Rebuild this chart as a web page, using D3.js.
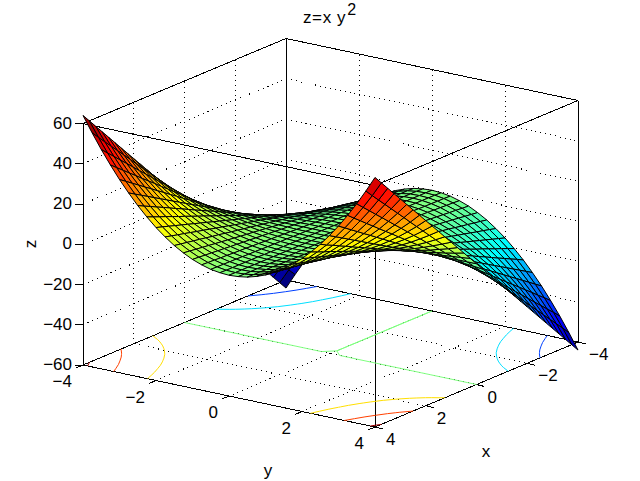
<!DOCTYPE html>
<html>
<head>
<meta charset="utf-8">
<script src="https://cdnjs.cloudflare.com/ajax/libs/d3/7.8.5/d3.min.js"></script>
<style>
  html, body { margin: 0; padding: 0; background: #fff; }
  text { font-family: "Liberation Sans", Arial, sans-serif; fill: #000; }
</style>
</head>
<body>
<svg id="chart" width="640" height="481"></svg>
<script>
const xValues = [-4,-3.75,-3.5,-3.25,-3,-2.75,-2.5,-2.25,-2,-1.75,-1.5,-1.25,-1,-.75,-.5,-.25,0,.25,.5,.75,1,1.25,1.5,1.75,2,2.25,2.5,2.75,3,3.25,3.5,3.75,4];
const yValues = [-4,-3.75,-3.5,-3.25,-3,-2.75,-2.5,-2.25,-2,-1.75,-1.5,-1.25,-1,-.75,-.5,-.25,0,.25,.5,.75,1,1.25,1.5,1.75,2,2.25,2.5,2.75,3,3.25,3.5,3.75,4];

// one row per x value, one column per y value
const zValues = [
[-64,-56.3,-49,-42.3,-36,-30.3,-25,-20.3,-16,-12.3,-9,-6.3,-4,-2.3,-1,-.3,0,-.3,-1,-2.3,-4,-6.3,-9,-12.3,-16,-20.3,-25,-30.3,-36,-42.3,-49,-56.3,-64],
[-60,-52.7,-45.9,-39.6,-33.8,-28.4,-23.4,-19,-15,-11.5,-8.4,-5.9,-3.8,-2.1,-.9,-.2,0,-.2,-.9,-2.1,-3.8,-5.9,-8.4,-11.5,-15,-19,-23.4,-28.4,-33.8,-39.6,-45.9,-52.7,-60],
[-56,-49.2,-42.9,-37,-31.5,-26.5,-21.9,-17.7,-14,-10.7,-7.9,-5.5,-3.5,-2,-.9,-.2,0,-.2,-.9,-2,-3.5,-5.5,-7.9,-10.7,-14,-17.7,-21.9,-26.5,-31.5,-37,-42.9,-49.2,-56],
[-52,-45.7,-39.8,-34.3,-29.3,-24.6,-20.3,-16.5,-13,-10,-7.3,-5.1,-3.3,-1.8,-.8,-.2,0,-.2,-.8,-1.8,-3.3,-5.1,-7.3,-10,-13,-16.5,-20.3,-24.6,-29.3,-34.3,-39.8,-45.7,-52],
[-48,-42.2,-36.8,-31.7,-27,-22.7,-18.8,-15.2,-12,-9.2,-6.8,-4.7,-3,-1.7,-.8,-.2,0,-.2,-.8,-1.7,-3,-4.7,-6.8,-9.2,-12,-15.2,-18.8,-22.7,-27,-31.7,-36.8,-42.2,-48],
[-44,-38.7,-33.7,-29,-24.8,-20.8,-17.2,-13.9,-11,-8.4,-6.2,-4.3,-2.8,-1.5,-.7,-.2,0,-.2,-.7,-1.5,-2.8,-4.3,-6.2,-8.4,-11,-13.9,-17.2,-20.8,-24.8,-29,-33.7,-38.7,-44],
[-40,-35.2,-30.6,-26.4,-22.5,-18.9,-15.6,-12.7,-10,-7.7,-5.6,-3.9,-2.5,-1.4,-.6,-.2,0,-.2,-.6,-1.4,-2.5,-3.9,-5.6,-7.7,-10,-12.7,-15.6,-18.9,-22.5,-26.4,-30.6,-35.2,-40],
[-36,-31.6,-27.6,-23.8,-20.3,-17,-14.1,-11.4,-9,-6.9,-5.1,-3.5,-2.3,-1.3,-.6,-.1,0,-.1,-.6,-1.3,-2.3,-3.5,-5.1,-6.9,-9,-11.4,-14.1,-17,-20.3,-23.8,-27.6,-31.6,-36],
[-32,-28.1,-24.5,-21.1,-18,-15.1,-12.5,-10.1,-8,-6.1,-4.5,-3.1,-2,-1.1,-.5,-.1,0,-.1,-.5,-1.1,-2,-3.1,-4.5,-6.1,-8,-10.1,-12.5,-15.1,-18,-21.1,-24.5,-28.1,-32],
[-28,-24.6,-21.4,-18.5,-15.8,-13.2,-10.9,-8.9,-7,-5.4,-3.9,-2.7,-1.8,-1,-.4,-.1,0,-.1,-.4,-1,-1.8,-2.7,-3.9,-5.4,-7,-8.9,-10.9,-13.2,-15.8,-18.5,-21.4,-24.6,-28],
[-24,-21.1,-18.4,-15.8,-13.5,-11.3,-9.4,-7.6,-6,-4.6,-3.4,-2.3,-1.5,-.8,-.4,-.1,0,-.1,-.4,-.8,-1.5,-2.3,-3.4,-4.6,-6,-7.6,-9.4,-11.3,-13.5,-15.8,-18.4,-21.1,-24],
[-20,-17.6,-15.3,-13.2,-11.3,-9.5,-7.8,-6.3,-5,-3.8,-2.8,-2,-1.3,-.7,-.3,-.1,0,-.1,-.3,-.7,-1.3,-2,-2.8,-3.8,-5,-6.3,-7.8,-9.5,-11.3,-13.2,-15.3,-17.6,-20],
[-16,-14.1,-12.3,-10.6,-9,-7.6,-6.3,-5.1,-4,-3.1,-2.3,-1.6,-1,-.6,-.3,-.1,0,-.1,-.3,-.6,-1,-1.6,-2.3,-3.1,-4,-5.1,-6.3,-7.6,-9,-10.6,-12.3,-14.1,-16],
[-12,-10.5,-9.2,-7.9,-6.8,-5.7,-4.7,-3.8,-3,-2.3,-1.7,-1.2,-.8,-.4,-.2,-.05,0,-.05,-.2,-.4,-.8,-1.2,-1.7,-2.3,-3,-3.8,-4.7,-5.7,-6.8,-7.9,-9.2,-10.5,-12],
[-8,-7,-6.1,-5.3,-4.5,-3.8,-3.1,-2.5,-2,-1.5,-1.1,-.8,-.5,-.3,-.1,-.03,0,-.03,-.1,-.3,-.5,-.8,-1.1,-1.5,-2,-2.5,-3.1,-3.8,-4.5,-5.3,-6.1,-7,-8],
[-4,-3.5,-3.1,-2.6,-2.3,-1.9,-1.6,-1.3,-1,-.8,-.6,-.4,-.3,-.1,-.1,-.02,0,-.02,-.1,-.1,-.3,-.4,-.6,-.8,-1,-1.3,-1.6,-1.9,-2.3,-2.6,-3.1,-3.5,-4],
[0,0,0,0,0,0,0,0,0,0,0,0,0,0,0,0,0,0,0,0,0,0,0,0,0,0,0,0,0,0,0,0,0],
[4,3.5,3.1,2.6,2.3,1.9,1.6,1.3,1,.8,.6,.4,.3,.1,.1,.02,0,.02,.1,.1,.3,.4,.6,.8,1,1.3,1.6,1.9,2.3,2.6,3.1,3.5,4],
[8,7,6.1,5.3,4.5,3.8,3.1,2.5,2,1.5,1.1,.8,.5,.3,.1,.03,0,.03,.1,.3,.5,.8,1.1,1.5,2,2.5,3.1,3.8,4.5,5.3,6.1,7,8],
[12,10.5,9.2,7.9,6.8,5.7,4.7,3.8,3,2.3,1.7,1.2,.8,.4,.2,.05,0,.05,.2,.4,.8,1.2,1.7,2.3,3,3.8,4.7,5.7,6.8,7.9,9.2,10.5,12],
[16,14.1,12.3,10.6,9,7.6,6.3,5.1,4,3.1,2.3,1.6,1,.6,.3,.1,0,.1,.3,.6,1,1.6,2.3,3.1,4,5.1,6.3,7.6,9,10.6,12.3,14.1,16],
[20,17.6,15.3,13.2,11.3,9.5,7.8,6.3,5,3.8,2.8,2,1.3,.7,.3,.1,0,.1,.3,.7,1.3,2,2.8,3.8,5,6.3,7.8,9.5,11.3,13.2,15.3,17.6,20],
[24,21.1,18.4,15.8,13.5,11.3,9.4,7.6,6,4.6,3.4,2.3,1.5,.8,.4,.1,0,.1,.4,.8,1.5,2.3,3.4,4.6,6,7.6,9.4,11.3,13.5,15.8,18.4,21.1,24],
[28,24.6,21.4,18.5,15.8,13.2,10.9,8.9,7,5.4,3.9,2.7,1.8,1,.4,.1,0,.1,.4,1,1.8,2.7,3.9,5.4,7,8.9,10.9,13.2,15.8,18.5,21.4,24.6,28],
[32,28.1,24.5,21.1,18,15.1,12.5,10.1,8,6.1,4.5,3.1,2,1.1,.5,.1,0,.1,.5,1.1,2,3.1,4.5,6.1,8,10.1,12.5,15.1,18,21.1,24.5,28.1,32],
[36,31.6,27.6,23.8,20.3,17,14.1,11.4,9,6.9,5.1,3.5,2.3,1.3,.6,.1,0,.1,.6,1.3,2.3,3.5,5.1,6.9,9,11.4,14.1,17,20.3,23.8,27.6,31.6,36],
[40,35.2,30.6,26.4,22.5,18.9,15.6,12.7,10,7.7,5.6,3.9,2.5,1.4,.6,.2,0,.2,.6,1.4,2.5,3.9,5.6,7.7,10,12.7,15.6,18.9,22.5,26.4,30.6,35.2,40],
[44,38.7,33.7,29,24.8,20.8,17.2,13.9,11,8.4,6.2,4.3,2.8,1.5,.7,.2,0,.2,.7,1.5,2.8,4.3,6.2,8.4,11,13.9,17.2,20.8,24.8,29,33.7,38.7,44],
[48,42.2,36.8,31.7,27,22.7,18.8,15.2,12,9.2,6.8,4.7,3,1.7,.8,.2,0,.2,.8,1.7,3,4.7,6.8,9.2,12,15.2,18.8,22.7,27,31.7,36.8,42.2,48],
[52,45.7,39.8,34.3,29.3,24.6,20.3,16.5,13,10,7.3,5.1,3.3,1.8,.8,.2,0,.2,.8,1.8,3.3,5.1,7.3,10,13,16.5,20.3,24.6,29.3,34.3,39.8,45.7,52],
[56,49.2,42.9,37,31.5,26.5,21.9,17.7,14,10.7,7.9,5.5,3.5,2,.9,.2,0,.2,.9,2,3.5,5.5,7.9,10.7,14,17.7,21.9,26.5,31.5,37,42.9,49.2,56],
[60,52.7,45.9,39.6,33.8,28.4,23.4,19,15,11.5,8.4,5.9,3.8,2.1,.9,.2,0,.2,.9,2.1,3.8,5.9,8.4,11.5,15,19,23.4,28.4,33.8,39.6,45.9,52.7,60],
[64,56.3,49,42.3,36,30.3,25,20.3,16,12.3,9,6.3,4,2.3,1,.3,0,.3,1,2.3,4,6.3,9,12.3,16,20.3,25,30.3,36,42.3,49,56.3,64]
];

const xTicks = [-4, -2, 0, 2, 4];
const yTicks = [-4, -2, 0, 2, 4];
const zTicks = [-60, -40, -20, 0, 20, 40, 60];
const contourLevels = [-60, -40, -20, 0, 20, 40, 60];

const svg = d3.select("#chart");

// corners of the box as they land on the page
const backCorner = [286, 280];
const xEdge = [-203, 85];   // x=-4 -> x=4
const yEdge = [292, 62];    // y=-4 -> y=4
const zEdge = [0, -241.5];  // z=-60 -> z=60

const xScale = d3.scaleLinear().domain([-4, 4]).range([0, 1]);
const yScale = d3.scaleLinear().domain([-4, 4]).range([0, 1]);
const zScale = d3.scaleLinear().domain([-60, 60]).range([0, 1]);

function project(x, y, z) {
  const u = xScale(x), v = yScale(y), w = zScale(z);
  return [
    backCorner[0] + u * xEdge[0] + v * yEdge[0] + w * zEdge[0],
    backCorner[1] + u * xEdge[1] + v * yEdge[1] + w * zEdge[1]
  ];
}

// MATLAB's jet
const colorPos = d3.scaleLinear().domain([-64, 64]).range([0, 1]).clamp(true);
function jet(z) {
  const t = colorPos(z);
  const ch = c => Math.round(255 * Math.max(0, Math.min(1, 1.5 - Math.abs(4 * t - c))));
  return `rgb(${ch(3)},${ch(2)},${ch(1)})`;
}

const line = d3.line();

// grid on floor and the two back walls
const gridLines = [];
xTicks.forEach(x => {
  gridLines.push([project(x, -4, -60), project(x, 4, -60)]);
  gridLines.push([project(x, -4, -60), project(x, -4, 60)]);
});
yTicks.forEach(y => {
  gridLines.push([project(-4, y, -60), project(4, y, -60)]);
  gridLines.push([project(-4, y, -60), project(-4, y, 60)]);
});
zTicks.forEach(z => {
  gridLines.push([project(4, -4, z), project(-4, -4, z)]);
  gridLines.push([project(-4, -4, z), project(-4, 4, z)]);
});

svg.append("g").attr("id", "grid")
  .selectAll("path").data(gridLines).join("path")
  .attr("d", line)
  .attr("fill", "none")
  .attr("stroke", "#000")
  .attr("stroke-width", 1)
  .attr("stroke-dasharray", "1 4")
  .attr("shape-rendering", "crispEdges");

// the 12 box edges
const boxEdges = [];
[-60, 60].forEach(z => {
  boxEdges.push([project(4, -4, z), project(4, 4, z)]);
  boxEdges.push([project(4, 4, z), project(-4, 4, z)]);
  boxEdges.push([project(-4, 4, z), project(-4, -4, z)]);
  boxEdges.push([project(-4, -4, z), project(4, -4, z)]);
});
[[4, -4], [4, 4], [-4, 4], [-4, -4]].forEach(c => {
  boxEdges.push([project(c[0], c[1], -60), project(c[0], c[1], 60)]);
});

svg.append("g").attr("id", "box")
  .selectAll("path").data(boxEdges).join("path")
  .attr("d", line)
  .attr("fill", "none")
  .attr("stroke", "#000")
  .attr("stroke-width", 1)
  .attr("shape-rendering", "crispEdges");

// ticks
const tickLines = [];
xTicks.forEach(x => {
  const p = project(x, 4, -60);
  tickLines.push([p, [p[0] + 8, p[1] + 2]]);
});
yTicks.forEach(y => {
  const p = project(4, y, -60);
  tickLines.push([p, [p[0] - 7, p[1] + 3]]);
});
zTicks.forEach(z => {
  const p = project(4, -4, z);
  tickLines.push([p, [p[0] - 8, p[1]]]);
});
svg.append("g").attr("id", "ticks")
  .selectAll("path").data(tickLines).join("path")
  .attr("d", line)
  .attr("fill", "none")
  .attr("stroke", "#000")
  .attr("stroke-width", 1)
  .attr("shape-rendering", "crispEdges");

// contours on the floor, d3.contours closes them along the border so those bits get dropped
const n = zValues.length;
const gridToY = d3.scaleLinear().domain([0.5, n - 0.5]).range([-4, 4]);
const gridToX = d3.scaleLinear().domain([0.5, n - 0.5]).range([-4, 4]);
const inside = p => p[0] > 0 && p[0] < n && p[1] > 0 && p[1] < n;

const contourData = d3.contours()
  .size([n, n])
  .thresholds(contourLevels)(zValues.flat());

const contourPaths = [];
contourData.forEach(c => {
  c.coordinates.forEach(poly => poly.forEach(ring => {
    let run = [];
    ring.forEach(p => {
      if (inside(p)) {
        run.push(project(gridToX(p[1]), gridToY(p[0]), -60));
      } else {
        if (run.length > 1) contourPaths.push({ level: c.value, pts: run });
        run = [];
      }
    });
    if (run.length > 1) contourPaths.push({ level: c.value, pts: run });
  }));
});

svg.append("g").attr("id", "contours")
  .selectAll("path").data(contourPaths).join("path")
  .attr("d", d => line(d.pts))
  .attr("fill", "none")
  .attr("stroke", d => jet(d.level))
  .attr("stroke-width", 1);

// surface, going from the back corner to the front one is enough for a height field
const faces = [];
for (let i = 0; i < n - 1; i++) {
  for (let j = 0; j < n - 1; j++) {
    faces.push({
      z: zValues[i][j],
      pts: [
        project(xValues[i], yValues[j], zValues[i][j]),
        project(xValues[i + 1], yValues[j], zValues[i + 1][j]),
        project(xValues[i + 1], yValues[j + 1], zValues[i + 1][j + 1]),
        project(xValues[i], yValues[j + 1], zValues[i][j + 1])
      ]
    });
  }
}

svg.append("g").attr("id", "surface")
  .selectAll("path").data(faces).join("path")
  .attr("d", d => line(d.pts) + "Z")
  .attr("fill", d => jet(d.z))
  .attr("stroke", "#000")
  .attr("stroke-width", 1)
  .attr("stroke-linejoin", "round");

// labels
const fmt = v => String(v).replace("-", "\u2212");
const fontSize = 17;

svg.append("g").selectAll("text").data(zTicks).join("text")
  .attr("x", 72)
  .attr("y", d => project(4, -4, d)[1] + 5)
  .attr("text-anchor", "end")
  .attr("font-size", fontSize)
  .text(fmt);

svg.append("g").selectAll("text").data(yTicks).join("text")
  .attr("x", d => project(4, d, -60)[0] - 11)
  .attr("y", d => project(4, d, -60)[1] + 22)
  .attr("text-anchor", "end")
  .attr("font-size", fontSize)
  .text(fmt);

svg.append("g").selectAll("text").data(xTicks).join("text")
  .attr("x", d => project(d, 4, -60)[0] + 11)
  .attr("y", d => project(d, 4, -60)[1] + 18)
  .attr("text-anchor", "start")
  .attr("font-size", fontSize)
  .text(fmt);

const title = svg.append("text")
  .attr("x", 303)
  .attr("y", 23)
  .attr("font-size", fontSize)
  .attr("letter-spacing", 0.6)
  .text("z=x y");
title.append("tspan")
  .attr("dx", 1)
  .attr("dy", -8)
  .attr("font-size", 16)
  .text("2");

svg.append("text").attr("x", 268).attr("y", 476).attr("text-anchor", "middle").attr("font-size", fontSize).text("y");
svg.append("text").attr("x", 486).attr("y", 457).attr("text-anchor", "middle").attr("font-size", fontSize).text("x");
svg.append("text")
  .attr("transform", "translate(36,244) rotate(-90)")
  .attr("text-anchor", "middle")
  .attr("font-size", fontSize)
  .text("z");
</script>
</body>
</html>
